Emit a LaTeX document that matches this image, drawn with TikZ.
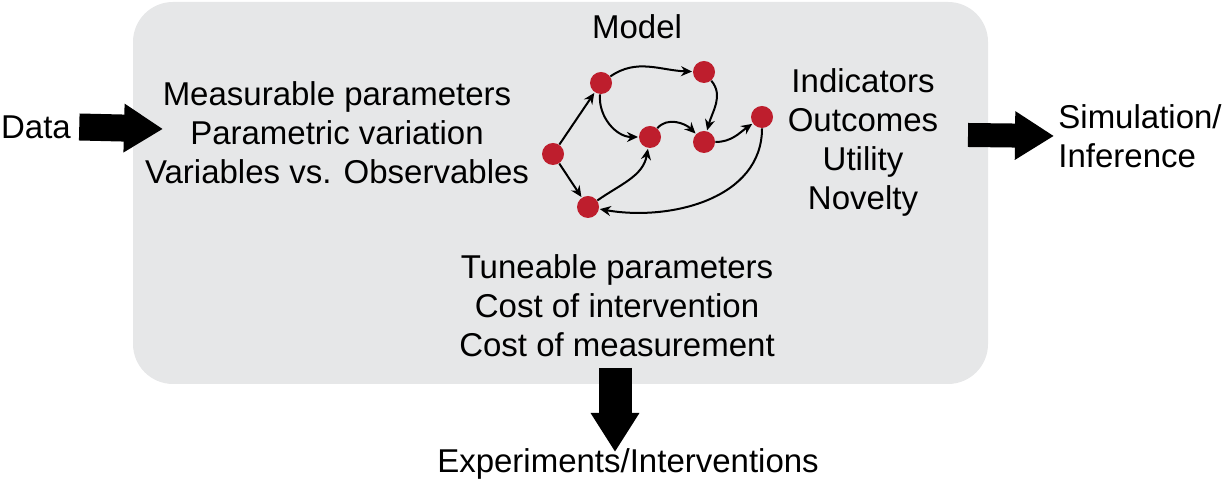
\documentclass[tikz,border=0pt]{standalone}
\usepackage{fontspec}
\setmainfont{Liberation Sans}
\usetikzlibrary{arrows.meta, positioning}
\definecolor{boxgray}{RGB}{230,231,232}
\definecolor{nodered}{RGB}{190,30,45}

\begin{document}
\begin{tikzpicture}[x=0.5pt, y=0.5pt,
  txt/.style={align=center, font=\fontsize{16.5}{19.5}\selectfont, inner sep=2pt},
  dot/.style={circle, fill=nodered, minimum size=11pt, inner sep=0pt},
  arr/.style={-{Stealth[length=5.5pt, width=5pt, inset=1.8pt]}, line width=1pt, shorten >=0.3pt},
  fat/.style={-{Triangle[length=19.5pt, width=23pt]}, line width=13.5pt}
]
\useasboundingbox (0,0) rectangle (1224,485);
\fill[boxgray, rounded corners=20pt] (133,101) rectangle (988,483);

% texts
\node[txt] (model) at (637,458) {Model};
\node[txt] (meas) at (337,352) {Measurable parameters\\Parametric variation\\Variables vs. Observables};
\node[txt] (ind) at (863,343) {Indicators\\Outcomes\\Utility\\Novelty};
\node[txt] (tune) at (617,179) {Tuneable parameters\\Cost of intervention\\Cost of measurement};
\node[txt] (data) at (36,358) {Data};
\node[txt, anchor=west, align=left] (sim) at (1054,349) {Simulation/\\Inference};
\node[txt] (exp) at (628,21) {Experiments/Interventions};

% model graph
\node[dot] (a) at (553,331) {};
\node[dot] (b) at (601,402) {};
\node[dot] (c) at (704,413) {};
\node[dot] (d) at (650,348) {};
\node[dot] (e) at (704,343) {};
\node[dot] (f) at (762,368) {};
\node[dot] (g) at (588,278) {};

\draw[arr] (a) -- (b);
\draw[arr] (a) -- (g);
\draw[arr] (b) to[out=35, in=178] (c);
\draw[arr] (b) to[out=-95, in=180] (d);
\draw[arr] (c) to[out=-50, in=75] (e);
\draw[arr] (d) to[out=50, in=135] (e);
\draw[arr] (e) to[out=0, in=215] (f);
\draw[arr] (f) to[out=-90, in=-10] (g);
\draw[arr] (g) to[out=35, in=-100] (d);

% big arrows
\coordinate (datatip) at (163,356);
\coordinate (simstart) at (968,350);
\coordinate (expstart) at (615,117);
\coordinate (exptip) at (615,33);
\draw[fat] ([xshift=2pt]data.east) -- (datatip);
\draw[fat, line width=12pt] (simstart) -- (sim.west);
\draw[fat, line width=16.5pt] (expstart) -- (exptip);
\end{tikzpicture}
\end{document}
